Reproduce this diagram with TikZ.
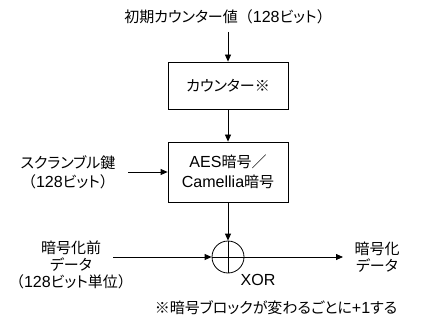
\documentclass[tikz,border=0pt]{standalone}
\usepackage{fontspec}
\setmainfont{Noto Sans CJK JP}[RawFeature=+palt]
\newfontfamily\fwf{Noto Sans CJK JP}
\newfontfamily\latf{Liberation Sans}[Scale=1.07]
\newcommand{\lt}[1]{{\latf #1}}
\newcommand{\fw}[1]{{\fwf #1}}
\usetikzlibrary{arrows.meta}
\begin{document}
\begin{tikzpicture}[x=1pt,y=-1pt,
  every node/.style={font=\fontsize{15}{19}\selectfont, inner sep=0pt},
  box/.style={draw, line width=0.8pt, minimum width=120pt, align=center},
  arr/.style={line width=0.8pt, -{Triangle[length=7pt,width=6pt]}},
  ln/.style={line width=0.8pt}]
\useasboundingbox (0,0) rectangle (422,331);
\node (init) at (228,17) {初期カウンター値\fw{（}\lt{128}ビット\fw{）}};
\node[box, minimum height=47pt] (cnt) at (228,85.5) {カウンター※};
\node[box, minimum height=60pt, align=center] (aes) at (228,172) {\lt{AES}暗号\fw{／}\\[1pt]\lt{Camellia}暗号};
\node[draw, circle, line width=0.8pt, minimum size=32pt] (xor) at (228,257) {};
\draw[ln] (xor.north) -- (xor.south) (xor.west) -- (xor.east);
\node (xorl) at (258,280) {\lt{XOR}};
\node[align=center, font=\fontsize{15}{19}\selectfont] (key) at (68,172) {スクランブル鍵\\\fw{（}\lt{128}ビット\fw{）}};
\coordinate (keyend) at (128,172);
\node[align=center, font=\fontsize{15}{17}\selectfont] (pt) at (71,265) {暗号化前\\データ\\\fw{（}\lt{128}ビット単位\fw{）}};
\coordinate (ptend) at (113,257);
\node[align=center, font=\fontsize{15}{17}\selectfont] (ct) at (377,257) {暗号化\\データ};
\coordinate (ctend) at (343,257);
\node (note) at (276,308) {※暗号ブロックが変わるごとに\lt{+1}する};
\draw[arr] (init.south |- 0,32) -- (cnt.north);
\draw[arr] (cnt) -- (aes);
\draw[arr] (keyend) -- (aes.west |- keyend);
\draw[arr] (aes) -- (xor);
\draw[arr] (ptend) -- (xor);
\draw[arr] (xor) -- (ctend);
\end{tikzpicture}
\end{document}
